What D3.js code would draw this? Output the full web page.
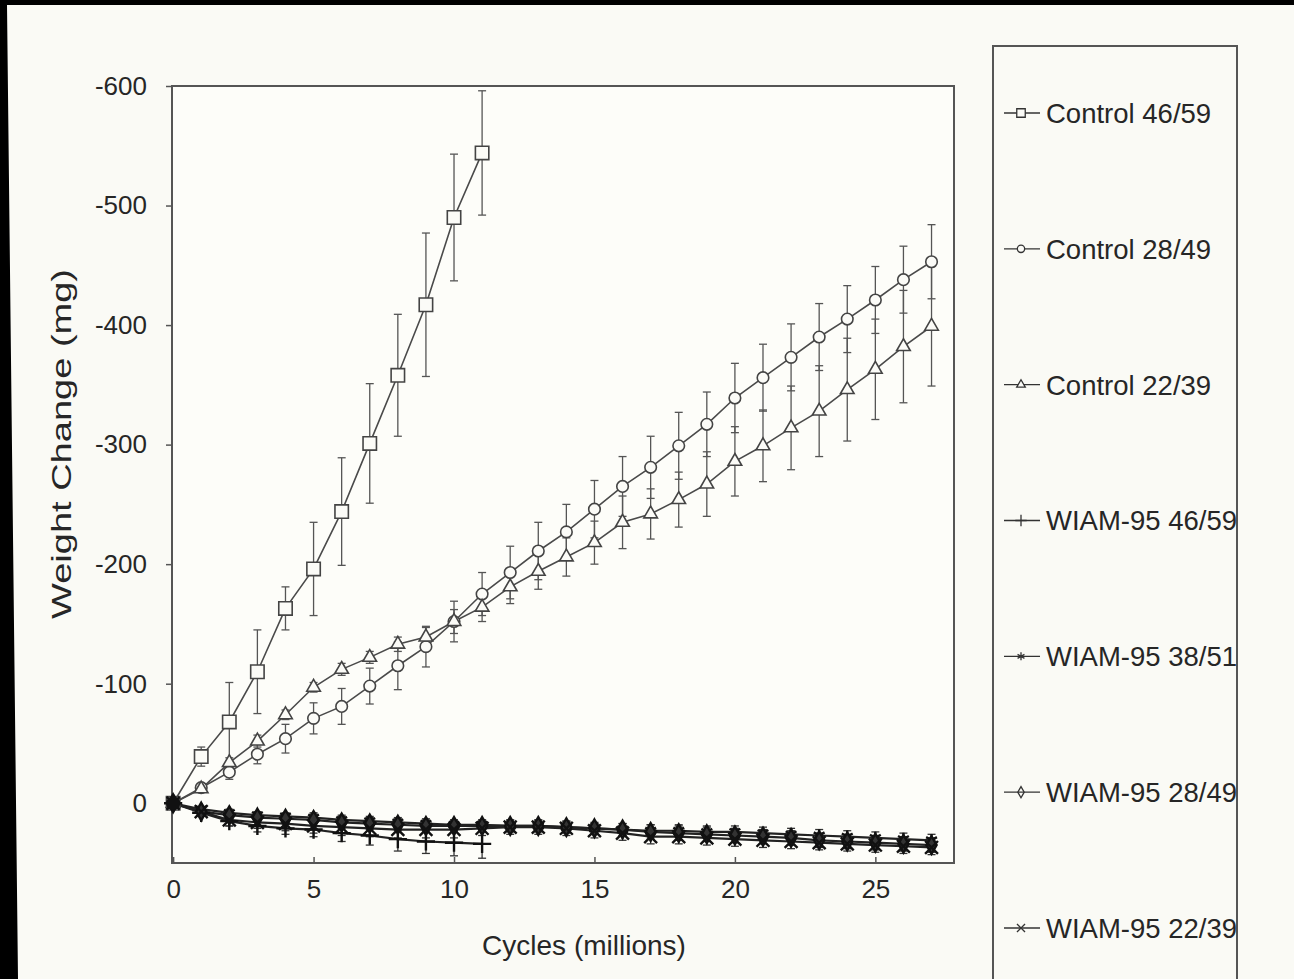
<!DOCTYPE html>
<html>
<head>
<meta charset="utf-8">
<script src="https://cdn.jsdelivr.net/npm/d3@7/dist/d3.min.js"></script>
<style>
  html, body { margin: 0; padding: 0; background: #fafaf5; }
  svg { display: block; }
  text { font-family: "Liberation Sans", Arial, sans-serif; fill: #262626; }
</style>
</head>
<body>
<svg id="chart" width="1294" height="979"></svg>
<script>
// ---------------- DATA ----------------
const cyclesShort = [0,1,2,3,4,5,6,7,8,9,10,11];
const cyclesLong = [0,1,2,3,4,5,6,7,8,9,10,11,12,13,14,15,16,17,18,19,20,21,22,23,24,25,26,27];

const control4659 = [0,-39,-68,-110,-163,-196,-244,-301,-358,-417,-490,-544];
const control4659Err = [0,8,33,35,18,39,45,50,51,60,53,52];

const control2849 = [0,-13,-26,-41,-54,-71,-81,-98,-115,-131,-152,-175,-193,-211,-227,-246,-265,-281,-299,-317,-339,-356,-373,-390,-405,-421,-438,-453];
const control2849Err = [0,3,6,8,12,13,15,15,20,17,17,18,22,24,23,24,25,26,28,27,29,28,28,28,28,28,28,31];

const control2239 = [0,-12,-34,-52,-74,-97,-112,-122,-133,-139,-152,-164,-181,-194,-206,-218,-235,-242,-254,-267,-286,-299,-314,-328,-346,-363,-382,-399];
const control2239Err = [0,3,4,5,4,4,5,5,6,8,10,12,14,15,16,18,22,21,23,27,29,30,35,38,43,42,47,50];

const wiam4659 = [0,8,15,19,21,22,25,27,30,32,33,34];
const wiam4659Err = [0,3,4,5,5,6,7,8,10,10,11,12];

const wiam3851 = [0,5,8,10,11,12,14,15,16,17,18,18,19,19,20,21,22,23,23,24,24,25,26,27,28,29,30,31];
const wiam3851Err = [0,2,3,3,3,4,4,4,4,4,4,4,4,4,4,4,5,5,5,5,5,5,5,5,5,5,5,5];

const wiam2849 = [0,7,10,12,13,14,16,17,18,19,19,19,19,19,20,21,22,24,25,26,27,28,29,31,32,33,34,35];
const wiam2849Err = [0,3,4,4,4,5,5,5,5,5,5,5,5,5,5,5,5,6,6,6,6,6,6,6,6,6,6,6];

const wiam2239 = [0,7,14,16,17,19,20,21,22,22,22,21,20,20,21,23,25,28,28,29,30,31,32,33,34,35,36,37];
const wiam2239Err = [0,3,5,5,6,6,7,7,7,7,7,6,6,6,6,6,6,6,6,6,6,6,6,6,6,6,6,6];

const seriesNames = ["Control 46/59","Control 28/49","Control 22/39","WIAM-95 46/59","WIAM-95 38/51","WIAM-95 28/49","WIAM-95 22/39"];
const yTicks = [-600,-500,-400,-300,-200,-100,0];
const xTicks = [0,5,10,15,20,25];

// ---------------- SERIES TABLE ----------------
const series = [
  {name: seriesNames[0], xs: cyclesShort, ys: control4659, es: control4659Err, sym: d3.symbolSquare, size: 180, open: true},
  {name: seriesNames[1], xs: cyclesLong, ys: control2849, es: control2849Err, sym: d3.symbolCircle, size: 105, open: true},
  {name: seriesNames[2], xs: cyclesLong, ys: control2239, es: control2239Err, sym: d3.symbolTriangle, size: 80, open: true},
  {name: seriesNames[3], xs: cyclesShort, ys: wiam4659, es: wiam4659Err, sym: d3.symbolPlus, size: 110, open: false},
  {name: seriesNames[4], xs: cyclesLong, ys: wiam3851, es: wiam3851Err, sym: d3.symbolAsterisk, size: 110, open: false},
  {name: seriesNames[5], xs: cyclesLong, ys: wiam2849, es: wiam2849Err, sym: d3.symbolDiamond, size: 90, open: false},
  {name: seriesNames[6], xs: cyclesLong, ys: wiam2239, es: wiam2239Err, sym: d3.symbolTimes, size: 110, open: false}
];

const svg = d3.select("#chart");

// photo border
svg.append("path")
  .attr("d", "M0,0 L1294,0 L1294,5 L7,5 L18,979 L0,979 Z")
  .attr("fill", "#000");

const x = d3.scaleLinear().domain([-0.04, 27.8]).range([172, 954]);
const y = d3.scaleLinear().domain([-600, 50]).range([86, 863]);

// frame
svg.append("rect")
  .attr("x", x.range()[0]).attr("y", y.range()[0])
  .attr("width", x.range()[1] - x.range()[0])
  .attr("height", y.range()[1] - y.range()[0])
  .attr("fill", "#fdfdf9").attr("stroke", "#555").attr("stroke-width", 2);

// y axis
const yAxis = svg.append("g")
  .attr("transform", `translate(${x.range()[0]},0)`)
  .call(d3.axisLeft(y).tickValues(yTicks).tickFormat(d => String(d)).tickSize(6).tickPadding(19));
yAxis.select(".domain").remove();
yAxis.selectAll(".tick line").attr("stroke", "#555").attr("stroke-width", 1.5);
yAxis.selectAll(".tick text").style("font-size", "26px").style("font-family", "Liberation Sans, Arial, sans-serif").attr("fill", "#2a2a2a");

// x axis
const xAxis = svg.append("g")
  .attr("transform", `translate(0,${y.range()[1]})`)
  .call(d3.axisBottom(x).tickValues(xTicks).tickFormat(d => String(d)).tickSize(-6).tickPadding(17));
xAxis.select(".domain").remove();
xAxis.selectAll(".tick line").attr("stroke", "#555").attr("stroke-width", 1.5);
xAxis.selectAll(".tick text").style("font-size", "26px").style("font-family", "Liberation Sans, Arial, sans-serif").attr("fill", "#2a2a2a");

// axis titles
svg.append("text")
  .attr("x", 584).attr("y", 955)
  .attr("text-anchor", "middle")
  .style("font-size", "28px")
  .text("Cycles (millions)");

svg.append("text")
  .attr("transform", "translate(71,444) rotate(-90)")
  .attr("text-anchor", "middle")
  .attr("textLength", 350).attr("lengthAdjust", "spacingAndGlyphs")
  .style("font-size", "28px")
  .text("Weight Change (mg)");

// data layers
const plot = svg.append("g");
const line = d3.line().x(d => x(d[0])).y(d => y(d[1]));

series.forEach(s => {
  const pts = s.xs.map((xv, i) => [xv, s.ys[i], s.es[i]]);
  const eg = plot.append("g").attr("stroke", s.open ? "#555" : "#333").attr("stroke-width", 1.3);
  pts.filter(p => p[2] > 0).forEach(p => {
    const cx = x(p[0]);
    eg.append("line").attr("x1", cx).attr("x2", cx).attr("y1", y(p[1] - p[2])).attr("y2", y(p[1] + p[2]));
    eg.append("line").attr("x1", cx - 4).attr("x2", cx + 4).attr("y1", y(p[1] - p[2])).attr("y2", y(p[1] - p[2]));
    eg.append("line").attr("x1", cx - 4).attr("x2", cx + 4).attr("y1", y(p[1] + p[2])).attr("y2", y(p[1] + p[2]));
  });
  s.pts = pts;
});

series.forEach(s => {
  plot.append("path").datum(s.pts)
    .attr("d", line)
    .attr("fill", "none")
    .attr("stroke", s.open ? "#4a4a4a" : "#222")
    .attr("stroke-width", s.open ? 1.6 : 2.2);
});

series.forEach(s => {
  const sym = d3.symbol().type(s.sym).size(s.size);
  plot.append("g").selectAll("path").data(s.pts).join("path")
    .attr("transform", d => `translate(${x(d[0])},${y(d[1])})`)
    .attr("d", sym)
    .attr("fill", s.open ? "#fbfbf7" : (s.sym === d3.symbolDiamond ? "#333" : "none"))
    .attr("stroke", s.open ? "#444" : "#111")
    .attr("stroke-width", s.open ? 1.6 : 2.4);
});

// big dot at origin
plot.append("circle").attr("cx", x(0)).attr("cy", y(0)).attr("r", 7).attr("fill", "#111");

// legend
const legendX = 993, legendTop = 46;
svg.append("path")
  .attr("d", `M${legendX},985 L${legendX},${legendTop} L1237,${legendTop} L1237,985`)
  .attr("fill", "none").attr("stroke", "#555").attr("stroke-width", 2);

const legendY = d3.scalePoint().domain(seriesNames).range([113, 928]);
series.forEach(s => {
  const ly = legendY(s.name);
  const g = svg.append("g");
  g.append("line").attr("x1", 1004).attr("x2", 1040).attr("y1", ly).attr("y2", ly)
    .attr("stroke", "#333").attr("stroke-width", 1.4);
  g.append("path")
    .attr("transform", `translate(1021,${ly})`)
    .attr("d", d3.symbol().type(s.sym).size(s.size * 0.4))
    .attr("fill", s.open ? "#fbfbf7" : "none")
    .attr("stroke", "#333").attr("stroke-width", 1.3);
  g.append("text")
    .attr("x", 1046).attr("y", ly).attr("dy", "0.36em")
    .style("font-size", "27.5px")
    .text(s.name);
});
</script>
</body>
</html>
